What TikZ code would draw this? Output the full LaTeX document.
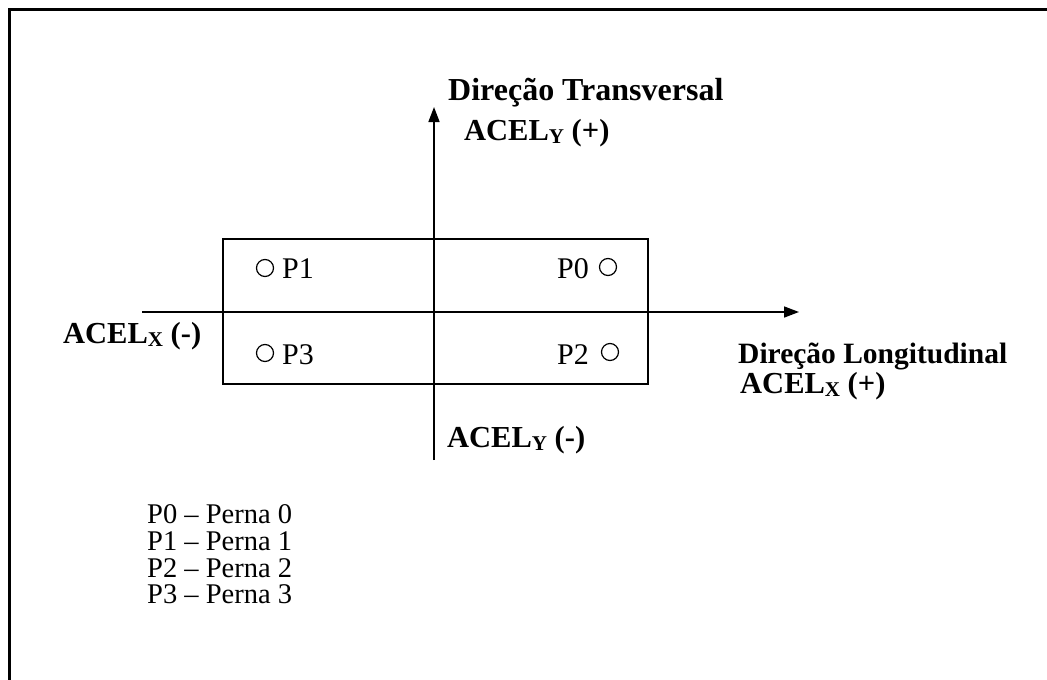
\documentclass[tikz,border=0pt]{standalone}
\usepackage{fontspec}
\setmainfont{Liberation Serif}
\usetikzlibrary{arrows.meta}
\newcommand{\subY}[1]{\raisebox{-3pt}{\fontsize{21}{21}\selectfont #1}}
\tikzset{
  axis/.style={line width=1.6pt,-{Triangle[length=15pt,width=11pt]}},
  plain/.style={line width=1.6pt},
  frame/.style={line width=3pt},
  lbl/.style={inner sep=0pt,anchor=base west,font=\fontsize{30.5}{30.5}\selectfont\bfseries},
  txt/.style={inner sep=0pt,anchor=base west,font=\fontsize{30}{30}\selectfont},
  legtxt/.style={inner sep=0pt,anchor=base west,font=\fontsize{28.5}{28.5}\selectfont},
  leg/.style={circle,draw,line width=1.2pt,minimum size=17pt,inner sep=0pt}
}
\begin{document}
\begin{tikzpicture}[x=1pt,y=-1pt]
\useasboundingbox (0,0) rectangle (1047,680);
% frame (only top and left edges visible)
\coordinate (fa) at (9.5,680);
\coordinate (fb) at (9.5,9.5);
\coordinate (fc) at (1047,9.5);
\draw[frame] (fa) -- (fb) -- (fc);
% box
\coordinate (r1) at (223,239);
\coordinate (r2) at (648,384);
\draw[plain] (r1) rectangle (r2);
% axes
\coordinate (xs) at (142,312);
\coordinate (xe) at (799,312);
\coordinate (ys) at (434,460);
\coordinate (ye) at (434,107);
\draw[axis] (xs) -- (xe);
\draw[axis] (ys) -- (ye);
% legs
\node[leg] (c1) at (265,268) {};
\node[txt] (p1) at (282,278) {P1};
\node[leg] (c3) at (265,353) {};
\node[txt] (p3) at (282,364) {P3};
\node[leg] (c0) at (608,267) {};
\node[txt,anchor=base east] (p0) at (589,278) {P0};
\node[leg] (c2) at (610,352) {};
\node[txt,anchor=base east] (p2) at (589,364) {P2};
% labels
\node[lbl,font=\fontsize{32}{32}\selectfont\bfseries] (dt) at (448,100) {Direção Transversal};
\node[lbl] (ayp) at (464,140) {ACEL\subY{Y} (+)};
\node[lbl] (axm) at (63,343) {ACEL\subY{X} (-)};
\node[lbl,font=\fontsize{29.5}{29.5}\selectfont\bfseries] (dl) at (738,363) {Direção Longitudinal};
\node[lbl] (axp) at (740,393) {ACEL\subY{X} (+)};
\node[lbl] (aym) at (447,447) {ACEL\subY{Y} (-)};
% legend
\node[legtxt] (l0) at (147,523) {P0 – Perna 0};
\node[legtxt] (l1) at (147,550) {P1 – Perna 1};
\node[legtxt] (l2) at (147,577) {P2 – Perna 2};
\node[legtxt] (l3) at (147,603) {P3 – Perna 3};
\end{tikzpicture}
\end{document}
